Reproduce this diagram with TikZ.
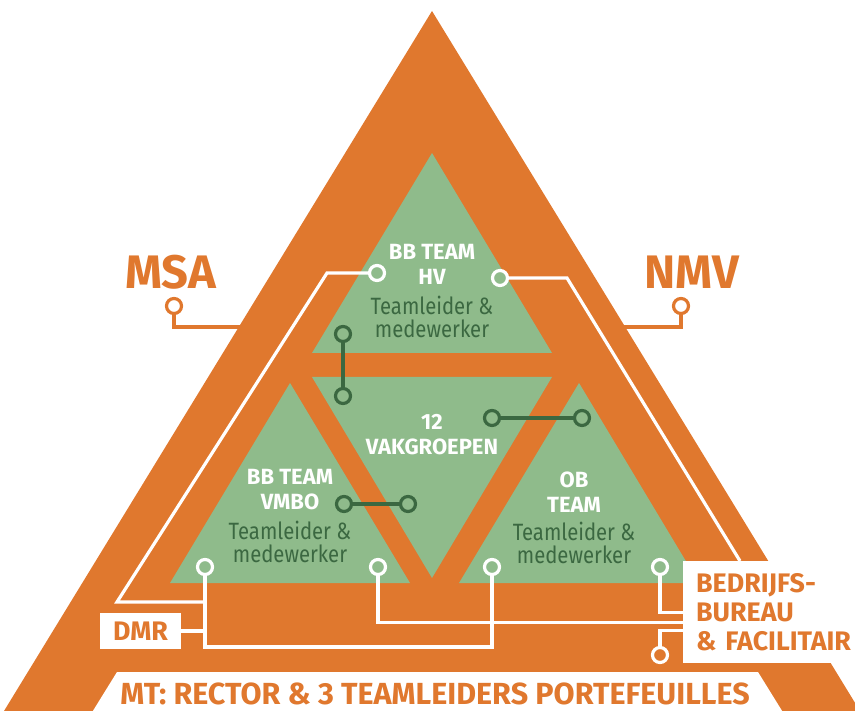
\documentclass[tikz,border=0pt]{standalone}
\usepackage{fontspec}
\setmainfont{Fira Sans}
\newfontfamily\narrowfont[FakeStretch=0.86]{Fira Sans}
\usetikzlibrary{calc}
\definecolor{rust}{RGB}{224,120,46}
\definecolor{sage}{RGB}{143,187,139}
\definecolor{moss}{RGB}{59,104,65}

\tikzset{
  wdot/.style={circle, draw=white, line width=3.2pt, minimum size=15pt, inner sep=0pt},
  gdot/.style={wdot, draw=moss},
  odot/.style={wdot, draw=rust},
  wlink/.style={draw=white, line width=3.2pt},
  glink/.style={wlink, draw=moss},
  olink/.style={wlink, draw=rust},
  teamhead/.style={text=white, align=center, font=\bfseries\fontsize{22}{25}\selectfont},
  teamsub/.style={text=moss, align=center, font=\narrowfont\fontsize{23.6}{23.5}\selectfont},
  orgname/.style={text=rust, font=\bfseries\fontsize{47}{50}\selectfont},
  whitebox/.style={fill=white, text=rust, font=\bfseries\fontsize{26.8}{29}\selectfont},
}

\begin{document}
\begin{tikzpicture}[x=1pt, y=-1pt]
    \useasboundingbox (0,0) rectangle (855,711);

    % Pyramid
    \fill[rust] (432,11) -- (860,711) -- (4,711) -- cycle;
    \fill[white] (117,672) -- (758,672) -- (784,714) -- (91,714) -- cycle;

    % Green triangles
    \fill[sage] (432,153) -- (552,353) -- (312,353) -- cycle;
    \fill[sage] (312,377) -- (552,377) -- (432,578) -- cycle;
    \fill[sage] (290,383) -- (410,583) -- (170,583) -- cycle;
    \fill[sage] (579,383) -- (699,583) -- (459,583) -- cycle;

    % Team texts
    \node[teamhead] (hvhead) at (432,264) {BB TEAM\\HV};
    \node[teamsub] (hvsub) at (432,317) {Teamleider \&\\medewerker};
    \node[teamhead] (vakhead) at (432,435) {12\\VAKGROEPEN};
    \node[teamhead] (vmbohead) at (290,490) {BB TEAM\\VMBO};
    \node[teamsub] (vmbosub) at (290,542) {Teamleider \&\\medewerker};
    \node[teamhead] (obhead) at (574,492) {OB\\TEAM};
    \node[teamsub] (obsub) at (574,543) {Teamleider \&\\medewerker};

    % Side labels
    \node[orgname] (msa) at (171,272) {MSA};
    \node[orgname] (nmv) at (692,272) {NMV};
    \node[odot] (msadot) at (174,306) {};
    \node[odot] (nmvdot) at (681,306) {};
    \coordinate (msaend) at (243,327);
    \coordinate (nmvend) at (623,327);
    \draw[olink] (msadot) |- (msaend);
    \draw[olink] (nmvdot) |- (nmvend);

    % Boxes
    \node[whitebox, minimum width=81pt, minimum height=36pt, inner sep=0pt] (dmr) at (140.5,631) {DMR};
    \node[whitebox, anchor=north west, minimum width=175pt, minimum height=102pt,
          text width=162pt, align=left, inner xsep=13pt, inner ysep=0pt] (bedr) at (683,561)
          {BEDRIJFS-\\BUREAU\\\& FACILITAIR};
    \node[text=rust, font=\bfseries\fontsize{30.5}{31}\selectfont, anchor=base, inner sep=0pt] (mt) at (435,704)
          {MT: RECTOR \& 3 TEAMLEIDERS PORTEFEUILLES};

    % White dots and links
    \node[wdot] (hvl) at (377,273) {};
    \node[wdot] (hvr) at (500,278) {};
    \node[wdot] (vmbol) at (205,567) {};
    \node[wdot] (vmbor) at (378,567) {};
    \node[wdot] (obl) at (492,567) {};
    \node[wdot] (obr) at (660,567) {};
    \node[wdot] (bedrdot) at (660,655) {};
    \coordinate (lknee) at (327,273);
    \coordinate (lfoot) at (117,602);
    \coordinate (rknee) at (567,278);
    \coordinate (rfoot) at (740,561);
    \coordinate (lowrail) at (0,647);
    \draw[wlink] (hvl) -- (lknee) -- (lfoot) -- (lfoot -| vmbol);
    \draw[wlink] (hvr) -- (rknee) -- (rfoot);
    \draw[wlink] (vmbol) -- (vmbol |- lowrail) -| (obl);
    \draw[wlink] (dmr.east) -- (dmr.east -| vmbol);
    \draw[wlink] (vmbor) |- ([yshift=-10pt]bedr.west);
    \draw[wlink] (obr) |- (bedr.west);
    \draw[wlink] ([yshift=-18pt]bedr.west) -| (bedrdot);

    % Green dots and links
    \node[gdot] (hvdot) at (343,334) {};
    \node[gdot] (vaktop) at (343,396) {};
    \node[gdot] (vmbodot) at (344,504) {};
    \node[gdot] (vakleft) at (408,504) {};
    \node[gdot] (vakright) at (492,418) {};
    \node[gdot] (obdot) at (582,418) {};
    \draw[glink] (hvdot) -- (vaktop);
    \draw[glink] (vmbodot) -- (vakleft);
    \draw[glink] (vakright) -- (obdot);
\end{tikzpicture}
\end{document}
